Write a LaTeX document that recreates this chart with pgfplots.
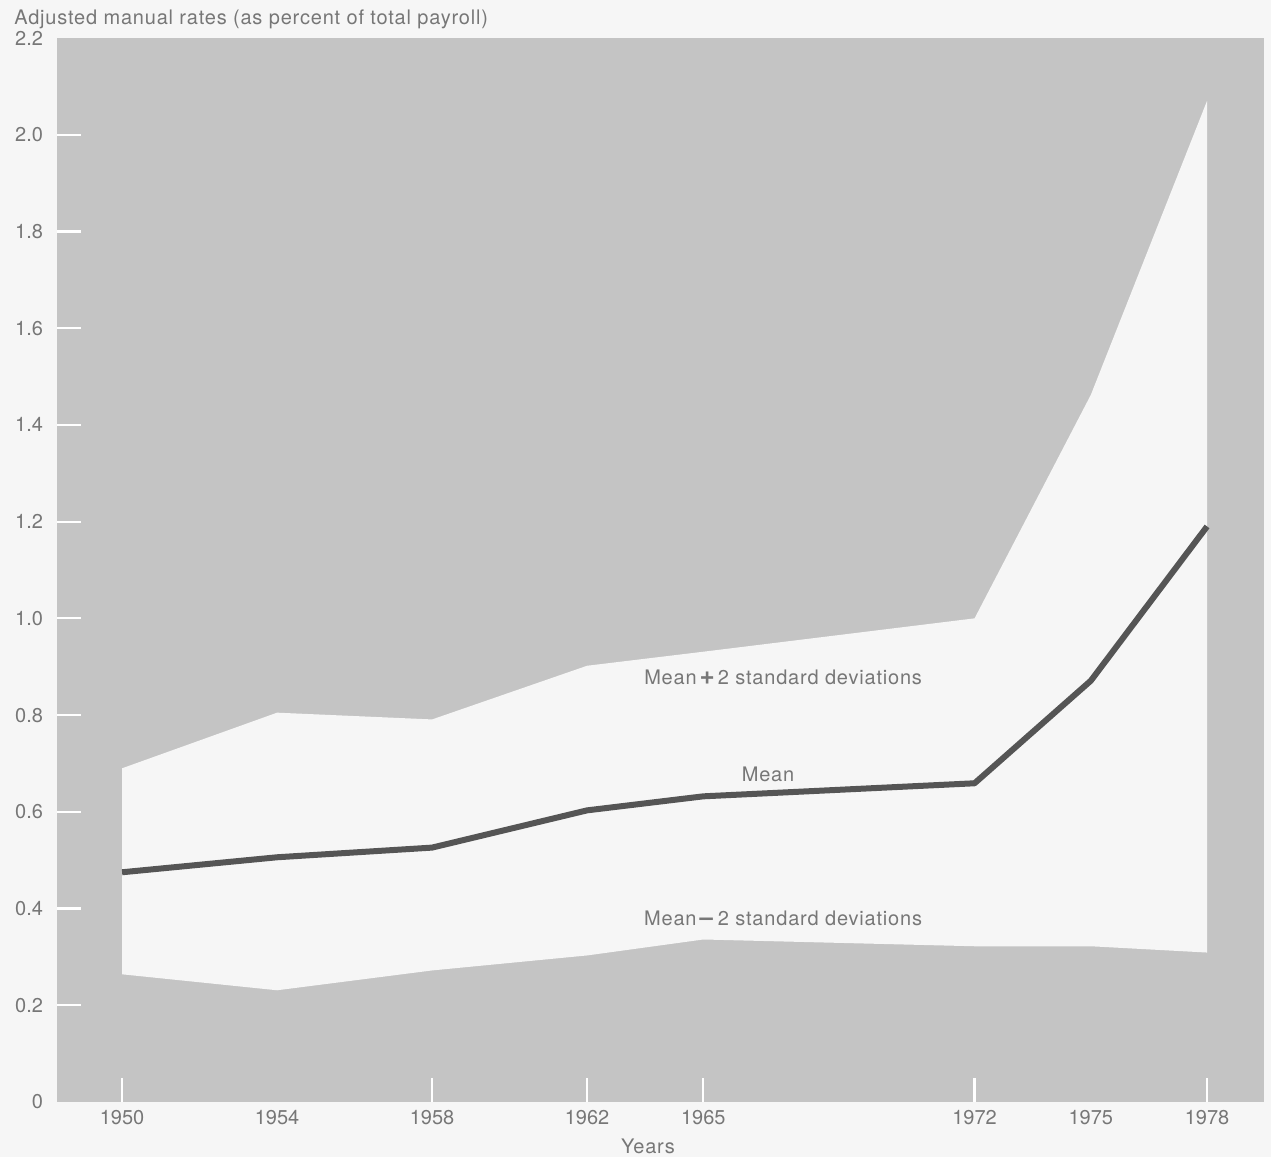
\documentclass[border=0pt]{standalone}
\usepackage{pgfplots}
\pgfplotsset{compat=1.18}
\usepackage{pgfplotstable}
\usepgfplotslibrary{fillbetween}
\usepackage{fontspec}
\setmainfont{TeX Gyre Heros}
\newfontfamily\spaced[LetterSpace=4]{TeX Gyre Heros}
\definecolor{plotgray}{HTML}{C4C4C4}
\definecolor{bandwhite}{HTML}{F6F6F6}
\definecolor{pagebg}{HTML}{F6F6F6}
\definecolor{txt}{HTML}{777777}
\definecolor{meanline}{HTML}{555555}
\pagecolor{pagebg}

\pgfplotstableread{
year upper mean lower
1950 0.690 0.475 0.264
1954 0.805 0.506 0.231
1958 0.791 0.526 0.272
1962 0.902 0.603 0.303
1965 0.931 0.632 0.336
1972 1.000 0.659 0.322
1975 1.462 0.871 0.322
1978 2.070 1.190 0.309
}\datatable

\begin{document}
\begin{tikzpicture}
\begin{axis}[
  at={(0,0)}, anchor=south west,
  scale only axis,
  width=603.5pt, height=532pt,
  xmin=1948.32, xmax=1979.47,
  ymin=0, ymax=2.2,
  axis background/.style={fill=plotgray},
  axis line style={draw=none},
  clip=false,
  tick align=inside,
  xtick pos=bottom, ytick pos=left,
  major tick length=12pt,
  tick style={white, line width=1.1pt},
  xtick={1950,1958,1962,1965,1972,1978},
  xticklabels={1950,1958,1962,1965,1972,1978},
  extra x ticks={1954,1975},
  extra x tick labels={1954,1975},
  extra x tick style={major tick length=0pt},
  ytick={0.2,0.4,0.6,0.8,1.0,1.2,1.4,1.6,1.8,2.0},
  yticklabels={0.2,0.4,0.6,0.8,1.0,1.2,1.4,1.6,1.8,2.0},
  extra y ticks={0,2.2},
  extra y tick labels={0,2.2},
  extra y tick style={major tick length=0pt},
  /pgf/number format/assume math mode=true,
  ticklabel style={font=\fontsize{10}{12}\selectfont, text=txt},
  yticklabel style={xshift=-3.5pt},
  xticklabel style={yshift=-0.5pt},
]
\addplot[name path=U, draw=none, forget plot] table[x=year, y=upper] {\datatable};
\addplot[name path=L, draw=none, forget plot] table[x=year, y=lower] {\datatable};
\addplot[fill=bandwhite, draw=none, forget plot] fill between[of=U and L];
\addplot[meanline, line width=3pt, line join=round] table[x=year, y=mean] {\datatable};

\node[text=txt, font=\fontsize{10}{12}\spaced] at (axis cs:1967.06,0.878) {Mean\kern1.5pt{\fontsize{13}{13}\selectfont\bfseries+}\kern1.5pt 2 standard deviations};
\node[text=txt, font=\fontsize{10}{12}\spaced] at (axis cs:1966.67,0.677) {Mean};
\node[text=txt, font=\fontsize{10}{12}\spaced] at (axis cs:1967.06,0.379) {Mean\kern1.5pt{\fontsize{12}{12}\selectfont\bfseries –}\kern2.5pt 2 standard deviations};
\coordinate (tl) at (rel axis cs:0,1);
\coordinate (yr) at (axis cs:1963.57,0);
\end{axis}
\node[text=txt, font=\fontsize{10}{12}\spaced, anchor=base west, inner sep=0pt] at ([xshift=-21.5pt,yshift=6.5pt]tl) {Adjusted manual rates (as percent of total payroll)};
\node[text=txt, font=\fontsize{10}{12}\spaced, anchor=base] at ([yshift=-26pt]yr) {Years};
\pgfresetboundingbox
\path[use as bounding box] (-28.5pt,-27.5pt) rectangle (607pt,551pt);
\end{tikzpicture}
\end{document}
